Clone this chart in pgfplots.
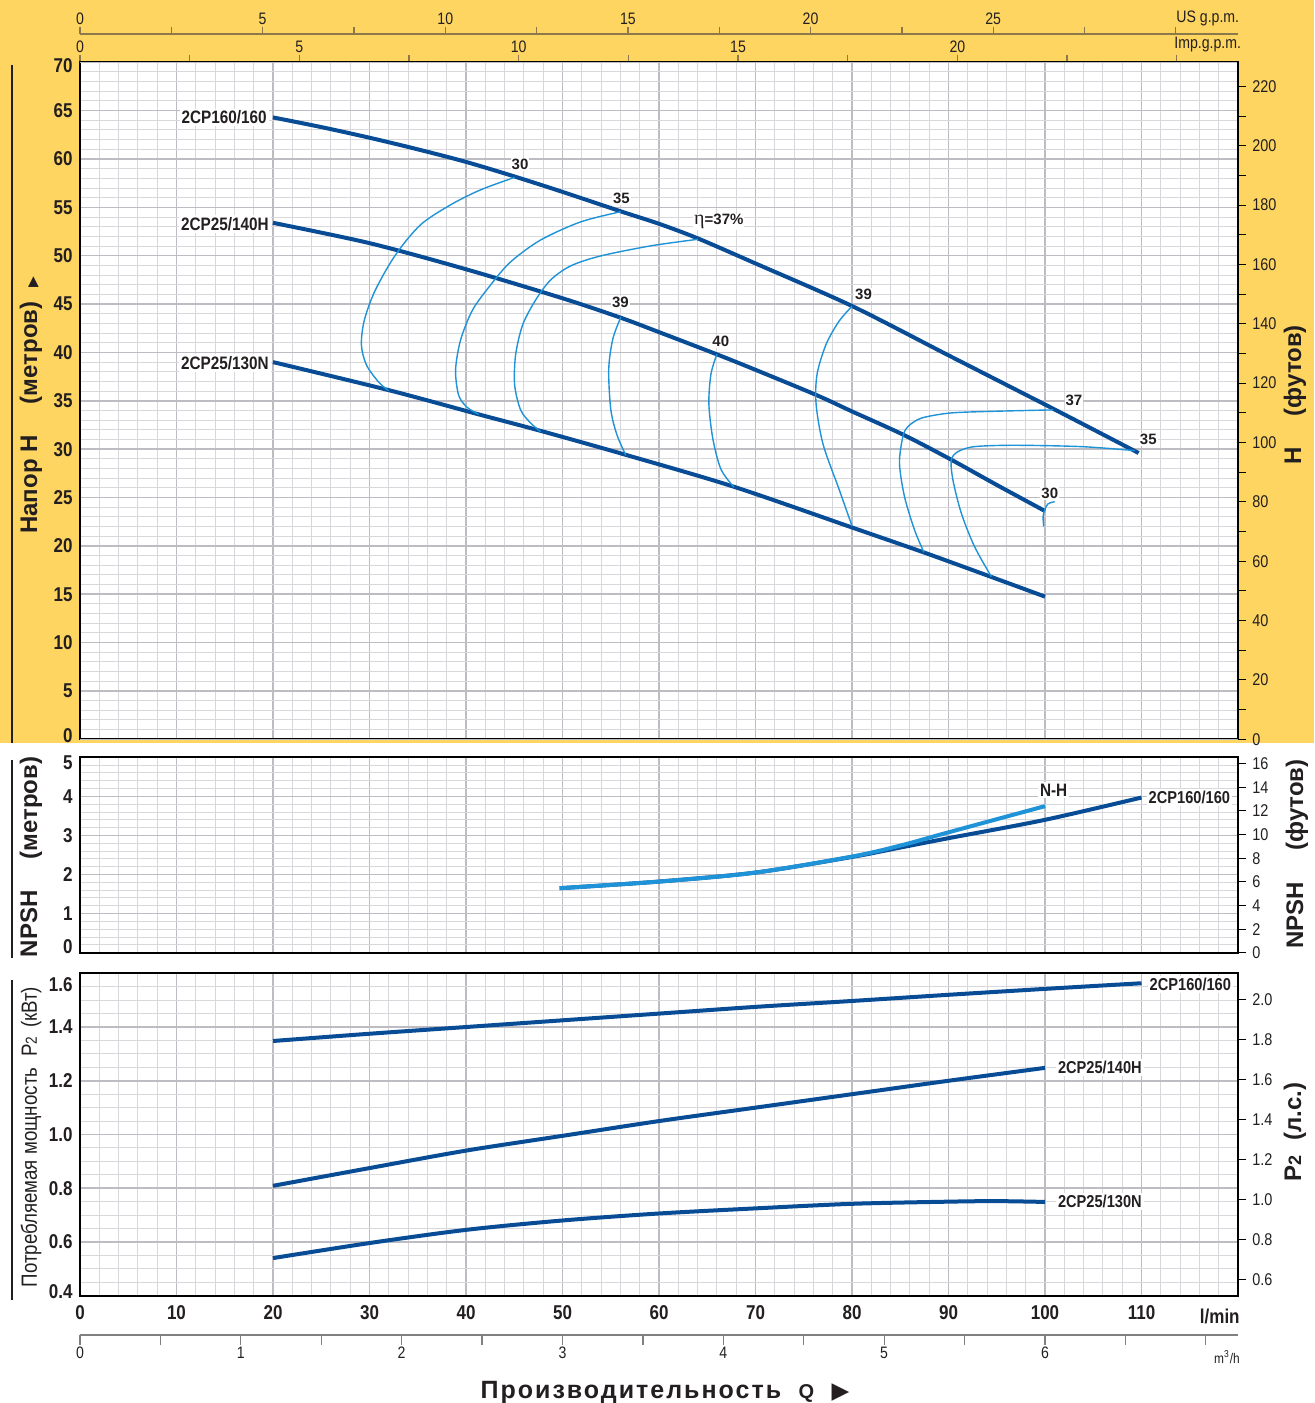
\documentclass[border=0pt]{standalone}
\usepackage{fontspec}
\setmainfont{Liberation Sans}[FakeStretch=0.85]
\newfontfamily\widefont{Liberation Sans}
\newfontfamily\titlefont{Liberation Sans}[LetterSpace=8]
\newfontfamily\seriffont{Liberation Serif}
\newfontfamily\symfont{DejaVu Sans}
\usepackage{pgfplots}
\pgfplotsset{compat=1.18}

\definecolor{bgyellow}{RGB}{253,213,96}
\definecolor{darkblue}{RGB}{8,76,150}
\definecolor{lightblue}{RGB}{30,147,216}
\definecolor{gridminor}{RGB}{216,216,220}
\definecolor{gridmajor}{RGB}{188,188,194}
\definecolor{olive}{RGB}{140,120,72}
\definecolor{textdark}{RGB}{35,31,32}
\newcommand{\fs}[1]{\fontsize{#1}{#1}\selectfont}

\tikzset{
 lab/.style={font=\bfseries\fs{9}, text=textdark, fill=white, inner sep=1pt},
 elab/.style={font=\widefont\bfseries\fs{7.5}, text=textdark, fill=white, inner sep=0.5pt},
 ltick/.style={font=\bfseries\fs{10}, text=textdark, inner sep=0pt, anchor=east, xshift=-3.5pt},
}
\pgfplotsset{
 panel/.style={scale only axis, width=579pt, xmin=0, xmax=120, anchor=south west,
   xtick={0,10,...,120}, minor xtick={0,2,...,120}, grid=both,
   major grid style={draw=gridmajor, line width=0.75pt},
   minor grid style={draw=gridminor, line width=0.5pt},
   axis line style={line width=1.1pt, black},
   major tick length=0pt, minor tick length=0pt,
   axis background/.style={fill=white},
   clip=false,
   /pgf/number format/assume math mode=true,
   yticklabel style={font=\bfseries\fs{10}, text=textdark, inner sep=0pt, xshift=-3.5pt},
   xticklabel style={font=\bfseries\fs{10}, text=textdark, inner sep=0pt, yshift=-4.5pt},
 },
 rightax/.style={scale only axis, width=579pt, xmin=0, xmax=120, anchor=south west,
   axis y line*=right, axis x line=none, ytick align=outside,
   major tick length=4pt, minor tick length=4pt,
   tick style={line width=0.5pt, black},
   axis line style={line width=1.1pt, black},
   yticklabel style={font=\fs{8.5}, text=textdark, inner sep=0pt, xshift=3pt},
   /pgf/number format/assume math mode=true,
 },
 gpm/.style={scale only axis, width=579pt, height=8pt, xmin=0, ymin=0, ymax=1,
   axis x line*=top, axis y line=none, xtick align=outside,
   major tick length=3.8pt, tick style={draw=olive, line width=0.6pt},
   axis line style={draw=olive, line width=0.9pt},
   xticklabel style={font=\fs{8.3}, text=textdark, inner sep=1pt},
   /pgf/number format/assume math mode=true,
 },
 main/.style={draw=darkblue, line width=2pt, smooth, no marks},
 eff/.style={draw=lightblue, line width=0.7pt, smooth, no marks},
}

\begin{document}
\begin{tikzpicture}
\useasboundingbox (0,0) rectangle (657pt,701.5pt);
\fill[white] (0,0) rectangle (657pt,701.5pt);
\fill[bgyellow] (0,330pt) rectangle (657pt,701.5pt);

% ---------- US gpm axis ----------
\begin{axis}[gpm, at={(40pt,684.35pt)}, anchor=north west, xmax=31.701,
  xtick={0,2.5,...,30}, xticklabels={0,,5,,10,,15,,20,,25,,}]
\end{axis}
\node[anchor=west, font=\fs{8.3}, text=textdark, inner sep=0pt] at (588pt,692.5pt) {US g.p.m.};

% ---------- Imp gpm axis ----------
\begin{axis}[gpm, at={(40pt,670.35pt)}, anchor=north west, xmax=26.397,
  axis line style={draw=none},
  xtick={0,2.5,...,25}, xticklabels={0,,5,,10,,15,,20,,}]
\end{axis}
\node[anchor=west, font=\fs{8.3}, text=textdark, inner sep=0pt] at (587pt,679pt) {Imp.g.p.m.};

% ---------- Head chart ----------
\begin{axis}[panel, at={(40pt,331.85pt)}, height=338.5pt, ymin=0, ymax=70,
  ytick={5,10,...,65}, minor ytick={0,1,...,70}, extra y ticks={0,70},
  extra y tick labels={}, xticklabels={}]
\addplot[main] coordinates {(20,64.3)(25,63.3)(30,62.2)(35,61.0)(40,59.7)(45,58.2)(50,56.6)(56,54.6)(60,53.3)(64,51.8)(70,49.2)(80,44.8)(90,39.7)(101,34.1)(109.7,29.6)};
\addplot[main] coordinates {(20,53.4)(30,51.3)(40,48.6)(50,45.6)(56,43.6)(60,42.1)(66,39.8)(70,38.2)(76.3,35.6)(80,33.9)(85.3,31.5)(90.3,28.9)(95,26.3)(100,23.6)};
\addplot[main] coordinates {(20,39.0)(32,36.1)(41.3,33.6)(47.7,31.9)(56.6,29.4)(67.8,26.1)(80,21.9)(87.5,19.3)(94.4,16.8)(100,14.75)};
% efficiency curves
\addplot[eff] coordinates {(45.04,58.1)(41.51,56.81)(38.40,55.26)(35.28,53.19)(32.69,50.08)(30.61,46.46)(29.47,43.36)(29.16,40.78)(29.68,38.71)(30.93,36.95)(31.96,36.05)};
\addplot[eff] coordinates {(56.04,54.55)(51.89,53.50)(47.74,51.63)(44.62,49.36)(42.55,46.98)(40.68,44.39)(39.44,41.29)(38.92,38.19)(39.23,35.61)(40.06,34.37)(41.30,33.6)};
\addplot[eff] coordinates {(64.03,51.7)(59.15,51.02)(53.96,49.98)(50.85,48.95)(48.78,47.50)(47.22,45.43)(45.87,42.85)(45.14,39.74)(45.04,36.64)(45.66,34.05)(46.70,32.70)(47.74,31.8)};
\addplot[eff] coordinates {(56.04,43.64)(55.21,41.37)(54.79,38.26)(55.00,34.13)(55.62,31.54)(56.56,29.37)};
\addplot[eff] coordinates {(66.0,39.81)(65.38,37.75)(65.17,34.64)(65.59,31.02)(66.42,27.92)(67.77,26.06)};
\addplot[eff] coordinates {(80.01,44.78)(78.66,43.23)(77.32,40.85)(76.38,37.75)(76.28,34.64)(77.0,30.51)(78.66,25.85)(80.01,22.03)};
\addplot[eff] coordinates {(100.84,34.06)(93.40,33.88)(89.94,33.71)(87.17,33.20)(85.79,32.33)(85.27,31.29)(84.92,28.54)(85.44,25.09)(86.48,21.64)(87.45,19.34)};
\addplot[eff] coordinates {(109.3,29.85)(103.78,30.26)(96.86,30.40)(92.70,30.26)(90.98,29.74)(90.29,28.88)(90.46,26.81)(91.33,23.37)(92.70,19.92)(94.44,16.82)};
\addplot[eff] coordinates {(101.0,24.57)(100.3,24.33)(99.97,23.71)(99.8,23.02)(99.87,21.99)};
% labels
\node[lab, anchor=east] at (axis cs:19.6,64.3) {2CP160/160};
\node[lab, anchor=east] at (axis cs:19.8,53.3) {2CP25/140H};
\node[lab, anchor=east] at (axis cs:19.8,38.9) {2CP25/130N};
\node[elab] at (axis cs:45.6,59.4) {30};
\node[elab] at (axis cs:56.1,55.9) {35};
\node[elab] at (axis cs:66.2,53.5) {{\seriffont\mdseries\fs{10}η}=37\%};
\node[elab] at (axis cs:56.0,45.2) {39};
\node[elab] at (axis cs:66.4,41.1) {40};
\node[elab] at (axis cs:81.2,46.0) {39};
\node[elab] at (axis cs:103.0,35.0) {37};
\node[elab] at (axis cs:110.7,31.0) {35};
\node[elab] at (axis cs:100.5,25.4) {30};
\node[ltick, yshift=-1.85pt] at (axis cs:0,70) {70};
\node[ltick, yshift=2pt] at (axis cs:0,0) {0};
\end{axis}
\begin{axis}[rightax, at={(40pt,331.85pt)}, height=338.5pt, ymin=0, ymax=228.1,
  ytick={0,20,...,220}, minor ytick={10,30,...,210}]
\end{axis}

% ---------- NPSH chart ----------
\begin{axis}[panel, at={(40pt,225.15pt)}, height=97.7pt, ymin=0, ymax=5,
  ytick={1,2,3,4}, minor ytick={0,0.2,0.4,0.6,0.8,1.2,1.4,1.6,1.8,2.2,2.4,2.6,2.8,3.2,3.4,3.6,3.8,4.2,4.4,4.6,4.8},
  xticklabels={}]
\addplot[main] coordinates {(49.7,1.65)(60,1.82)(70,2.05)(80,2.45)(85,2.69)(90,2.93)(100,3.40)(110,3.97)};
\addplot[main, draw=lightblue] coordinates {(49.7,1.65)(60,1.82)(70,2.05)(80,2.46)(85,2.74)(90,3.08)(100,3.75)};
\node[lab] at (axis cs:100.9,4.16) {N-H};
\node[lab, anchor=west, font=\bfseries\fs{8.6}] at (axis cs:110.5,3.98) {2CP160/160};
\node[ltick, yshift=-2.85pt] at (axis cs:0,5) {5};
\node[ltick, yshift=2.85pt] at (axis cs:0,0) {0};
\end{axis}
\begin{axis}[rightax, at={(40pt,225.15pt)}, height=97.7pt, ymin=0, ymax=16.54,
  ytick={0,2,...,16}]
\end{axis}

% ---------- Power chart ----------
\begin{axis}[panel, at={(40pt,53.65pt)}, height=161.2pt, ymin=0.4, ymax=1.6,
  ytick={0.6,0.8,1.0,1.2,1.4}, yticklabels={0.6,0.8,1.0,1.2,1.4},
  minor ytick={0.45,0.5,0.55,0.65,0.7,0.75,0.85,0.9,0.95,1.05,1.1,1.15,1.25,1.3,1.35,1.45,1.5,1.55},
  xticklabels={0,10,20,30,40,50,60,70,80,90,100,110,{}}]
\addplot[main] coordinates {(20,1.348)(30,1.375)(40,1.40)(50,1.425)(60,1.45)(70,1.475)(80,1.497)(90,1.52)(100,1.542)(110,1.563)};
\addplot[main] coordinates {(20,0.809)(30,0.875)(40,0.94)(50,0.995)(60,1.05)(70,1.10)(80,1.15)(90,1.20)(100,1.248)};
\addplot[main] coordinates {(20,0.54)(30,0.596)(40,0.645)(50,0.68)(60,0.706)(70,0.725)(80,0.742)(90,0.75)(95,0.752)(100,0.749)};
\node[lab, anchor=west, font=\bfseries\fs{8.6}] at (axis cs:110.6,1.559) {2CP160/160};
\node[lab, anchor=west, font=\bfseries\fs{8.6}] at (axis cs:101.1,1.25) {2CP25/140H};
\node[lab, anchor=west, font=\bfseries\fs{8.6}] at (axis cs:101.1,0.75) {2CP25/130N};
\node[ltick, yshift=-5.85pt] at (axis cs:0,1.6) {1.6};
\node[ltick, yshift=1.85pt] at (axis cs:0,0.4) {0.4};
\end{axis}
\begin{axis}[rightax, at={(40pt,53.65pt)}, height=161.2pt, ymin=0.5215, ymax=2.1294,
  ytick={0.6,0.8,1.0,1.2,1.4,1.6,1.8,2.0}, yticklabels={0.6,0.8,1.0,1.2,1.4,1.6,1.8,2.0}]
\end{axis}
\node[anchor=east, font=\bfseries\fs{10}, text=textdark, inner sep=0pt] at (620pt,43.5pt) {l/min};

% ---------- m3/h axis ----------
\begin{axis}[scale only axis, width=579pt, height=5pt, at={(40pt,34pt)}, anchor=south west,
  xmin=0, xmax=7.2, ymin=0, ymax=1, axis x line*=bottom, axis y line=none,
  xtick={0,0.5,...,7}, xticklabels={0,,1,,2,,3,,4,,5,,6,,}, xtick align=outside,
  major tick length=5pt, tick style={draw=gray, line width=0.6pt},
  axis line style={draw=gray, line width=1pt},
  xticklabel style={font=\fs{8.3}, text=textdark, inner sep=1pt},
  /pgf/number format/assume math mode=true]
\end{axis}
\node[font=\fs{7}, text=textdark, inner sep=0pt] at (613.5pt,23pt) {m\textsuperscript{3}/h};

% ---------- side labels ----------
\draw[line width=1pt, textdark] (6pt,669pt) -- (6pt,330pt);
\draw[line width=1pt, textdark] (6pt,321.5pt) -- (6pt,222.5pt);
\draw[line width=1pt, textdark] (6pt,211.5pt) -- (6pt,51.5pt);
\node[rotate=90, font=\widefont\bfseries\fs{12}, text=textdark] at (15.5pt,499pt) {Напор H\hspace{1.3em}(метров)\hspace{0.6em}{\symfont\fs{7}▶}};
\node[rotate=90, font=\widefont\bfseries\fs{12}, text=textdark] at (647.5pt,504pt) {H\hspace{1.3em}(футов)};
\node[rotate=90, font=\widefont\bfseries\fs{12}, text=textdark] at (15.5pt,273pt) {NPSH\hspace{1.3em}(метров)};
\node[rotate=90, font=\widefont\bfseries\fs{12}, text=textdark] at (648.5pt,274.5pt) {NPSH\hspace{1.3em}(футов)};
\node[rotate=90, font=\fs{11}, text=textdark] at (15.5pt,133pt) {Потребляемая мощность\hspace{0.5em}P{\fs{8}2}\hspace{0.4em}(кВт)};
\node[rotate=90, font=\widefont\bfseries\fs{12}, text=textdark] at (647.5pt,135.5pt) {P{\fs{9}2}\hspace{0.6em}(л.с.)};
\node[anchor=base, font=\titlefont\bfseries\fs{12.5}, text=textdark] at (332.5pt,2pt) {Производительность\hspace{0.7em}{\fs{10}Q}\hspace{0.7em}{\symfont\fs{11.5}\raisebox{0.4pt}{▶}}};
\end{tikzpicture}
\end{document}
